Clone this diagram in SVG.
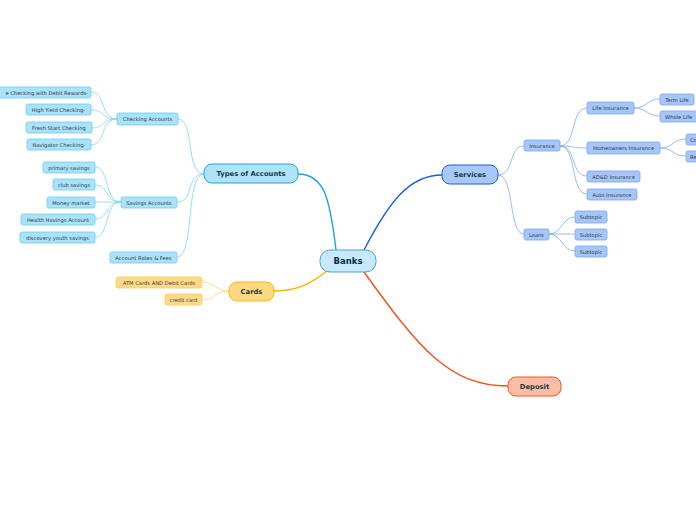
<svg xmlns="http://www.w3.org/2000/svg" width="696" height="520" viewBox="0 0 696 520">
<style>
text{font-family:"DejaVu Sans",Verdana,sans-serif;text-anchor:middle;dominant-baseline:central}
.s{font-size:5.2px;fill:#2f3a40}
.m{font-size:6.8px;font-weight:bold;fill:#163a3e}
.b{font-size:8.5px;font-weight:bold;fill:#0f2a4a}
.nb{fill:#aae2fa;stroke:#6fcdf4;stroke-width:0.8}
.ns{fill:#a6c6fa;stroke:#78a6f1;stroke-width:0.8}
.nc{fill:#ffd98a;stroke:#ffcd5c;stroke-width:0.8}
.lb{fill:none;stroke:#7dd3f6;stroke-width:0.8}
.ls{fill:none;stroke:#80aaf2;stroke-width:0.8}
.lc{fill:none;stroke:#ffd27a;stroke-width:0.8}
</style>
<rect width="696" height="520" fill="#fff"/>
<g id="connectors">
<path d="M336,250 C330,200 325,174 298,174" fill="none" stroke="#1aa3e6" stroke-width="1.4"/>
<path d="M364,250 C390,200 410,175 442,175" fill="none" stroke="#1a5fd4" stroke-width="1.4"/>
<path d="M328,270 C310,285 295,291 274,291" fill="none" stroke="#f9b400" stroke-width="1.4"/>
<path d="M364,272 C420,350 450,386 508,386" fill="none" stroke="#f2501e" stroke-width="1.4"/>
<path class="lb" d="M204,174 C185,174 195,119 178,119"/>
<path class="lb" d="M204,174 C185,174 195,202 177,202"/>
<path class="lb" d="M204,174 C185,174 195,257 177,257"/>
<path class="lb" d="M117,119 C100,119 106,92 91,92"/>
<path class="lb" d="M117,119 C100,119 106,110 91,110"/>
<path class="lb" d="M117,119 C100,119 106,128 92,128"/>
<path class="lb" d="M117,119 C100,119 106,145 91,145"/>
<path class="lb" d="M121,202 C104,202 110,167 95,167"/>
<path class="lb" d="M121,202 C104,202 110,185 95,185"/>
<path class="lb" d="M121,202 C104,202 110,202 95,202"/>
<path class="lb" d="M121,202 C104,202 110,219 95,219"/>
<path class="lb" d="M121,202 C104,202 110,237 95,237"/>
<path class="lc" d="M229,291 C215,291 215,282 202,282"/>
<path class="lc" d="M229,291 C215,291 215,300 202,300"/>
<path class="ls" d="M498,175 C515,175 508,146 524,146"/>
<path class="ls" d="M498,175 C515,175 508,234 524,234"/>
<path class="ls" d="M560,146 C577,146 570,108 587,108"/>
<path class="ls" d="M560,146 C577,146 570,148 587,148"/>
<path class="ls" d="M560,146 C577,146 570,176 587,176"/>
<path class="ls" d="M560,146 C577,146 570,194 587,194"/>
<path class="ls" d="M634,108 C648,108 646,99 660,99"/>
<path class="ls" d="M634,108 C648,108 646,116 660,116"/>
<path class="ls" d="M660,148 C674,148 672,139 686,139"/>
<path class="ls" d="M660,148 C674,148 672,156 686,156"/>
<path class="ls" d="M549,234 C562,234 562,217 575,217"/>
<path class="ls" d="M549,234 C562,234 562,234 575,234"/>
<path class="ls" d="M549,234 C562,234 562,251 575,251"/>
</g>
<g id="banks"><rect x="320" y="250" width="56" height="22" rx="10" fill="#c6eafb" stroke="#4ba3d6" stroke-width="1"/><text class="b" x="348" y="261">Banks</text></g>
<g id="types"><rect x="204" y="164" width="94" height="19" rx="8" fill="#aee3fa" stroke="#1ca3e6" stroke-width="1"/><text class="m" x="251" y="173.5">Types of Accounts</text></g>
<g id="services"><rect x="442" y="165" width="56" height="19" rx="8" fill="#a7c8fb" stroke="#1e5fd8" stroke-width="1"/><text class="m" x="470" y="174.5">Services</text></g>
<g id="cards"><rect x="229" y="282" width="45" height="19" rx="8" fill="#ffd97f" stroke="#f9b814" stroke-width="1"/><text class="m" x="251.5" y="291.5">Cards</text></g>
<g id="deposit"><rect x="508" y="377" width="53" height="19" rx="8" fill="#fbbda7" stroke="#f4561f" stroke-width="1"/><text class="m" x="534.5" y="386.5">Deposit</text></g>
<g id="checking"><rect class="nb" x="117" y="113" width="61" height="12" rx="2"/><text class="s" x="147.5" y="119">Checking Accounts</text></g>
<g id="savings"><rect class="nb" x="121" y="197" width="56" height="11" rx="2"/><text class="s" x="149" y="202.5">Savings Accounts</text></g>
<g id="rates"><rect class="nb" x="110" y="252" width="67" height="11" rx="2"/><text class="s" x="143.5" y="257.5">Account Rates &amp; Fees</text></g>
<g id="c1"><rect class="nb" x="-10" y="87" width="101" height="11" rx="2"/><text class="s" x="88" y="92.5" style="text-anchor:end">e Checking with Debit Rewards-</text></g>
<g id="c2"><rect class="nb" x="26" y="104" width="65" height="11" rx="2"/><text class="s" x="58.5" y="109.5">High Yield Checking-</text></g>
<g id="c3"><rect class="nb" x="26" y="122" width="66" height="11" rx="2"/><text class="s" x="59" y="127.5">Fresh Start Checking</text></g>
<g id="c4"><rect class="nb" x="27" y="139" width="64" height="11" rx="2"/><text class="s" x="59" y="144.5">Navigator Checking-</text></g>
<g id="s1"><rect class="nb" x="43" y="162" width="52" height="11" rx="2"/><text class="s" x="69" y="167.5">primary savings</text></g>
<g id="s2"><rect class="nb" x="53" y="179" width="42" height="11" rx="2"/><text class="s" x="74" y="184.5">club savings</text></g>
<g id="s3"><rect class="nb" x="47" y="197" width="48" height="11" rx="2"/><text class="s" x="71" y="202.5">Money market</text></g>
<g id="s4"><rect class="nb" x="21" y="214" width="74" height="11" rx="2"/><text class="s" x="58" y="219.5">Health Havings Account</text></g>
<g id="s5"><rect class="nb" x="20" y="232" width="75" height="11" rx="2"/><text class="s" x="57.5" y="237.5">discovery youth savings</text></g>
<g id="atm"><rect class="nc" x="116" y="277" width="86" height="11" rx="2"/><text class="s" x="159" y="282.5">ATM Cards AND Debit Cards</text></g>
<g id="credit"><rect class="nc" x="165" y="294" width="37" height="11" rx="2"/><text class="s" x="183.5" y="299.5">credit card</text></g>
<g id="insurance"><rect class="ns" x="524" y="140" width="36" height="11" rx="2"/><text class="s" x="542" y="145.5">Insurance</text></g>
<g id="loans"><rect class="ns" x="524" y="229" width="25" height="11" rx="2"/><text class="s" x="536.5" y="234.5">Loans</text></g>
<g id="life"><rect class="ns" x="587" y="102" width="47" height="12" rx="2"/><text class="s" x="610.5" y="108">Life Insurance</text></g>
<g id="home"><rect class="ns" x="587" y="142" width="73" height="12" rx="2"/><text class="s" x="623.5" y="148">Homeowners Insurance</text></g>
<g id="add"><rect class="ns" x="587" y="171" width="53" height="11" rx="2"/><text class="s" x="613.5" y="176.5">AD&amp;D Insurance</text></g>
<g id="auto"><rect class="ns" x="587" y="189" width="50" height="11" rx="2"/><text class="s" x="612" y="194.5">Auto Insurance</text></g>
<g id="term"><rect class="ns" x="660" y="94" width="34" height="11" rx="2"/><text class="s" x="677" y="99.5">Term Life</text></g>
<g id="whole"><rect class="ns" x="660" y="111" width="40" height="11" rx="2"/><text class="s" x="665" y="116.5" style="text-anchor:start">Whole Life</text></g>
<g id="co"><rect class="ns" x="686" y="134" width="20" height="11" rx="2"/><text class="s" x="690" y="139.5" style="text-anchor:start">Co</text></g>
<g id="re"><rect class="ns" x="686" y="151" width="20" height="11" rx="2"/><text class="s" x="690" y="156.5" style="text-anchor:start">Re</text></g>
<g id="sub1"><rect class="ns" x="575" y="211" width="32" height="12" rx="2"/><text class="s" x="591" y="217">Subtopic</text></g>
<g id="sub2"><rect class="ns" x="575" y="229" width="32" height="11" rx="2"/><text class="s" x="591" y="234.5">Subtopic</text></g>
<g id="sub3"><rect class="ns" x="575" y="246" width="32" height="11" rx="2"/><text class="s" x="591" y="251.5">Subtopic</text></g>
</svg>
